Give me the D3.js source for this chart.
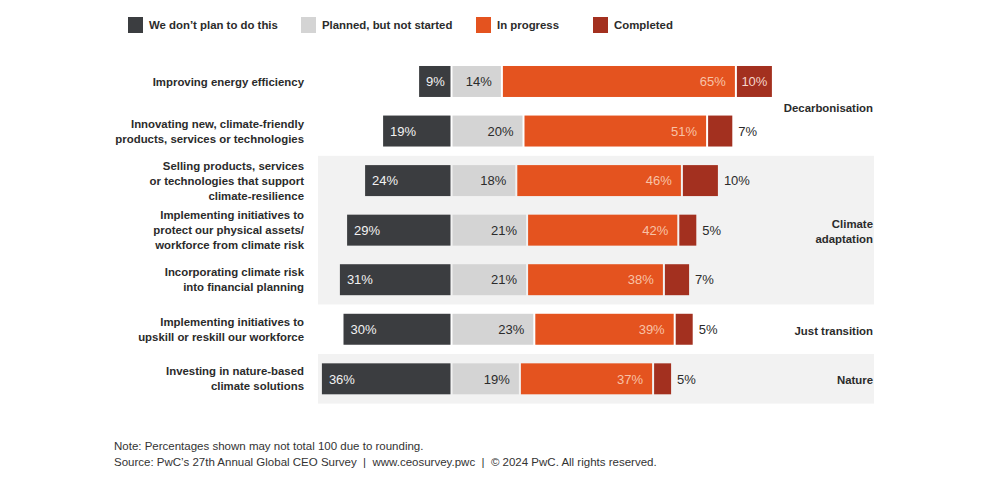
<!DOCTYPE html>
<html>
<head>
<meta charset="utf-8">
<script src="https://cdn.jsdelivr.net/npm/d3@7"></script>
<style>
  html, body { margin: 0; padding: 0; background: #fff; }
  svg { display: block; font-family: "Liberation Sans", Arial, Helvetica, sans-serif; }
</style>
</head>
<body>
<svg id="chart" width="1000" height="480"></svg>
<script>
// ---- data ----
const categories = [
  ["Improving energy efficiency"],
  ["Innovating new, climate-friendly", "products, services or technologies"],
  ["Selling products, services", "or technologies that support", "climate-resilience"],
  ["Implementing initiatives to", "protect our physical assets/", "workforce from climate risk"],
  ["Incorporating climate risk", "into financial planning"],
  ["Implementing initiatives to", "upskill or reskill our workforce"],
  ["Investing in nature-based", "climate solutions"]
];
const seriesNames = ["We don’t plan to do this", "Planned, but not started", "In progress", "Completed"];
const notPlanned = [9, 19, 24, 29, 31, 30, 36];
const planned    = [14, 20, 18, 21, 21, 23, 19];
const inProgress = [65, 51, 46, 42, 38, 39, 37];
const completed  = [10, 7, 10, 5, 7, 5, 5];

const groupNames = [["Decarbonisation"], ["Climate", "adaptation"], ["Just transition"], ["Nature"]];
const groupFirst = [0, 2, 5, 6];
const groupLast  = [1, 4, 5, 6];

const notes = [
  "Note: Percentages shown may not total 100 due to rounding.",
  "Source: PwC’s 27th Annual Global CEO Survey  |  www.ceosurvey.pwc  |  © 2024 PwC. All rights reserved."
];

// ---- styles ----
const colors = ["#3b3d40", "#d4d4d4", "#e4531f", "#a3301f"];
const textDark = "#2b2b2b";

const svg = d3.select("#chart");

// scales
const x = d3.scaleLinear().domain([0, 100]).range([451.5, 811.5]);
const idx = d3.range(categories.length);
const y = d3.scaleBand().domain(idx).range([56.7, 403.6]).paddingInner(0.375).paddingOuter(0.1875);

// group bands (alternate shading)
groupNames.forEach((g, gi) => {
  const top = y(groupFirst[gi]) - y.step() * y.paddingInner() / 2;
  const bot = y(groupLast[gi]) + y.bandwidth() + y.step() * y.paddingInner() / 2;
  if (gi % 2 === 1) {
    svg.append("rect").attr("x", 318).attr("y", top).attr("width", 874 - 318).attr("height", bot - top)
      .attr("fill", "#f2f2f2");
  }
  const cy = (top + bot) / 2 + 1.5;
  const t = svg.append("text").attr("x", 873).attr("text-anchor", "end")
    .attr("font-size", 11.4).attr("font-weight", "bold").attr("fill", textDark);
  const n = g.length;
  g.forEach((line, li) => {
    t.append("tspan").attr("x", 873).attr("y", cy + (li - (n - 1) / 2) * 15).attr("dy", "0.36em").text(line);
  });
});

// category labels
idx.forEach(i => {
  const cy = y(i) + y.bandwidth() / 2;
  const lines = categories[i];
  const n = lines.length;
  const t = svg.append("text").attr("text-anchor", "end").attr("font-size", 11.4)
    .attr("font-weight", "bold").attr("fill", textDark);
  lines.forEach((line, li) => {
    t.append("tspan").attr("x", 304).attr("y", cy + (li - (n - 1) / 2) * 15).attr("dy", "0.36em").text(line);
  });
});

// bars
const gap = 1;
idx.forEach(i => {
  const top = y(i), h = y.bandwidth(), cy = top + h / 2;
  const a = notPlanned[i], b = planned[i], c = inProgress[i], d = completed[i];
  const segs = [
    {x0: x(-a), x1: x(0), v: a, k: 0},
    {x0: x(0), x1: x(b), v: b, k: 1},
    {x0: x(b), x1: x(b + c), v: c, k: 2},
    {x0: x(b + c), x1: x(b + c + d), v: d, k: 3}
  ];
  segs.forEach(s => {
    const l = s.k === 0 ? s.x0 : s.x0 + gap;
    const r = s.k === 3 ? s.x1 : s.x1 - gap;
    svg.append("rect").attr("x", l).attr("y", top).attr("width", r - l).attr("height", h)
      .attr("fill", colors[s.k]);
    const lab = svg.append("text").attr("y", cy).attr("dy", "0.36em").attr("font-size", 13).text(s.v + "%");
    if (s.k === 0) {
      lab.attr("x", l + 7).attr("text-anchor", "start").attr("fill", "#f2f2f2");
    } else if (s.k === 1) {
      lab.attr("x", r - 9).attr("text-anchor", "end").attr("fill", textDark);
    } else if (s.k === 2) {
      lab.attr("x", r - 9).attr("text-anchor", "end").attr("fill", "#f8c2a6");
    } else {
      if (r + 7 + 28 > 790) {
        lab.attr("x", (l + r) / 2).attr("text-anchor", "middle").attr("fill", "#f6d5ca");
      } else {
        lab.attr("x", r + 6).attr("text-anchor", "start").attr("fill", textDark);
      }
    }
  });
});

// legend
const legendX = [128, 301, 476, 593];
seriesNames.forEach((s, i) => {
  svg.append("rect").attr("x", legendX[i]).attr("y", 17).attr("width", 15).attr("height", 16).attr("fill", colors[i]);
  svg.append("text").attr("x", legendX[i] + 21).attr("y", 25).attr("dy", "0.36em")
    .attr("font-size", 11.4).attr("font-weight", "bold").attr("fill", textDark).text(s);
});

// notes
notes.forEach((n, i) => {
  svg.append("text").attr("x", 114).attr("y", 446 + i * 16).attr("dy", "0.36em")
    .attr("font-size", 11.5).attr("fill", "#333").attr("xml:space", "preserve").style("white-space", "pre").text(n);
});
</script>
</body>
</html>
